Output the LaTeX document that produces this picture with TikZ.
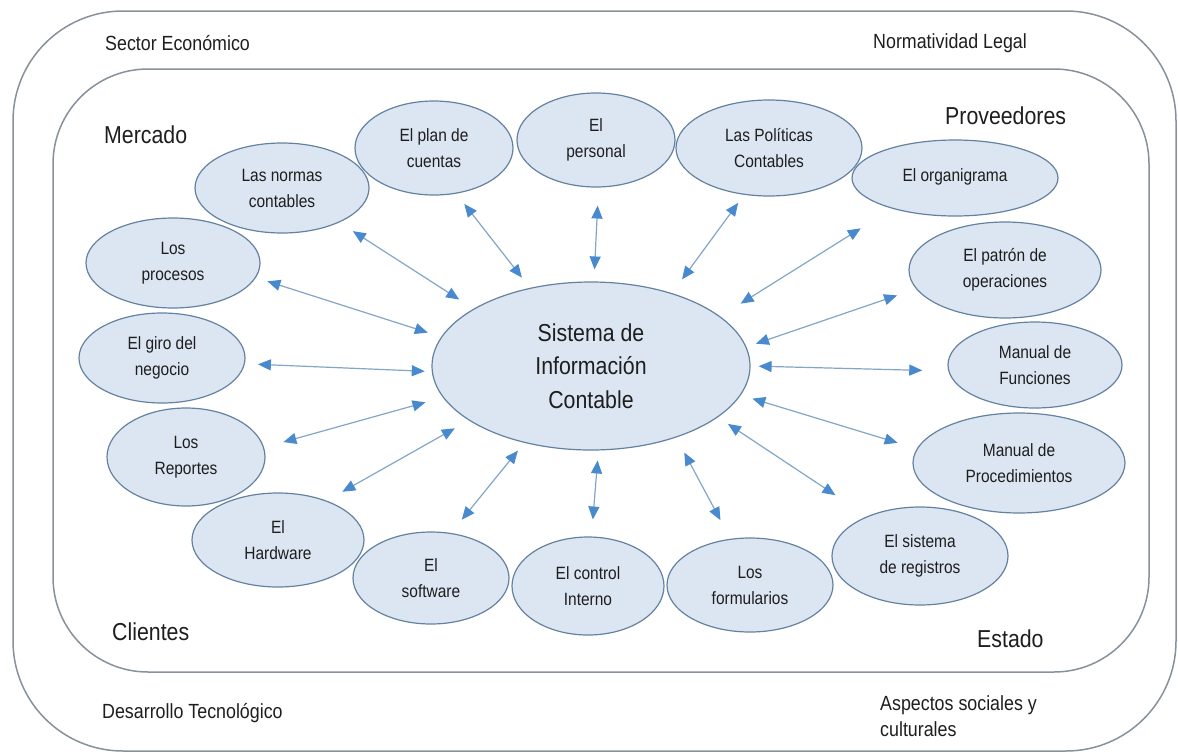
\documentclass[tikz,border=0pt]{standalone}
\usepackage{fontspec}
\setmainfont{Liberation Sans}[FakeStretch=0.87]
\usetikzlibrary{arrows.meta,shapes.geometric}
\definecolor{ellfill}{RGB}{220,230,242}
\definecolor{elldraw}{RGB}{100,130,160}
\definecolor{arrline}{RGB}{130,165,200}
\definecolor{arrtip}{RGB}{72,138,205}
\definecolor{boxline}{RGB}{135,145,155}
\definecolor{txt}{RGB}{30,30,30}
\newcommand\linkto[5]{\draw[conn, shorten <=#3pt, shorten >=#5pt] (#1.#2) -- (central.#4);}
\begin{document}
\begin{tikzpicture}[x=1pt,y=-1pt,
  bubble/.style={ellipse, draw=elldraw, fill=ellfill, line width=1.2pt, inner sep=0pt, align=center, text=txt, font=\fontsize{17.8}{26}\selectfont},
  conn/.style={draw=arrline, line width=1.2pt, {Triangle[length=13pt,width=11pt,color=arrtip]}-{Triangle[length=13pt,width=11pt,color=arrtip]}},
  outerlbl/.style={anchor=west, inner sep=0pt, text=txt, font=\fontsize{20.5}{25.5}\selectfont, align=left},
  innerlbl/.style={anchor=west, inner sep=0pt, text=txt, font=\fontsize{24.5}{30}\selectfont},
  frame/.style={draw=boxline, line width=1.5pt}]

\useasboundingbox (0,0) rectangle (1178,753);
\draw[frame, rounded corners=110pt] (13,11) rectangle (1176,751);
\draw[frame, rounded corners=95pt] (53,69) rectangle (1149,672);

% outer labels
\node[outerlbl] (sector) at (105,43) {Sector Económico};
\node[outerlbl] (norma) at (873,43) {Normatividad Legal};
\node[outerlbl] (desarrollo) at (102,713) {Desarrollo Tecnológico};
\node[outerlbl] (aspectos) at (880,716) {Aspectos sociales y\\culturales};

% inner labels
\node[innerlbl] (mercado) at (104,135) {Mercado};
\node[innerlbl] (proveedores) at (945,116) {Proveedores};
\node[innerlbl] (clientes) at (112,632) {Clientes};
\node[innerlbl] (estado) at (977,639) {Estado};

% central
\node[bubble, minimum width=318pt, minimum height=168pt, font=\fontsize{24.5}{33.5}\selectfont] (central) at (591,366) {Sistema de\\Información\\Contable};

% satellites
\node[bubble, minimum width=174pt, minimum height=90pt] (normas) at (282,188) {Las normas\\contables};
\node[bubble, minimum width=158pt, minimum height=94pt] (plan) at (434,148) {El plan de\\cuentas};
\node[bubble, minimum width=158pt, minimum height=94pt] (personal) at (596,140) {El\\personal};
\node[bubble, minimum width=186pt, minimum height=96pt] (politicas) at (769,148) {Las Políticas\\Contables};
\node[bubble, minimum width=206pt, minimum height=76pt] (organigrama) at (955,178) {\raisebox{5pt}{El organigrama}};
\node[bubble, minimum width=192pt, minimum height=96pt] (patron) at (1005,270) {El patrón de\\operaciones};
\node[bubble, minimum width=174pt, minimum height=86pt] (funciones) at (1035,365) {Manual de\\Funciones};
\node[bubble, minimum width=212pt, minimum height=100pt] (procedimientos) at (1019,463) {Manual de\\Procedimientos};
\node[bubble, minimum width=176pt, minimum height=98pt] (registros) at (920,556) {El sistema\\de registros};
\node[bubble, minimum width=166pt, minimum height=94pt] (formularios) at (750,585) {Los\\formularios};
\node[bubble, minimum width=152pt, minimum height=98pt] (control) at (588,586) {El control\\Interno};
\node[bubble, minimum width=156pt, minimum height=92pt] (software) at (431,578) {El\\software};
\node[bubble, minimum width=172pt, minimum height=94pt] (hardware) at (278,540) {El\\Hardware};
\node[bubble, minimum width=158pt, minimum height=98pt] (reportes) at (186,457) {Los\\Reportes};
\node[bubble, minimum width=166pt, minimum height=90pt] (giro) at (162,358) {El giro del\\negocio};
\node[bubble, minimum width=174pt, minimum height=90pt] (procesos) at (173,263) {Los\\procesos};

% connectors
\linkto{normas}{-31}{16}{154}{17}
\linkto{plan}{-64}{13}{128}{13}
\linkto{personal}{-87}{18}{88}{12}
\linkto{politicas}{-118}{10}{42}{17}
\linkto{organigrama}{-154}{37}{21}{24}
\linkto{patron}{-168}{20}{7}{10}
\linkto{funciones}{-176}{26}{0}{8}
\linkto{procedimientos}{172}{20}{-11}{12}
\linkto{registros}{143}{38}{-22}{12}
\linkto{formularios}{113}{21}{-40}{17}
\linkto{control}{86}{17}{-85}{10}
\linkto{software}{66}{17}{-131}{10}
\linkto{hardware}{39}{18}{-156}{16}
\linkto{reportes}{7}{20}{-168}{18}
\linkto{giro}{-4}{13}{-178}{7}
\linkto{procesos}{-10}{12}{169}{14}
\end{tikzpicture}
\end{document}
